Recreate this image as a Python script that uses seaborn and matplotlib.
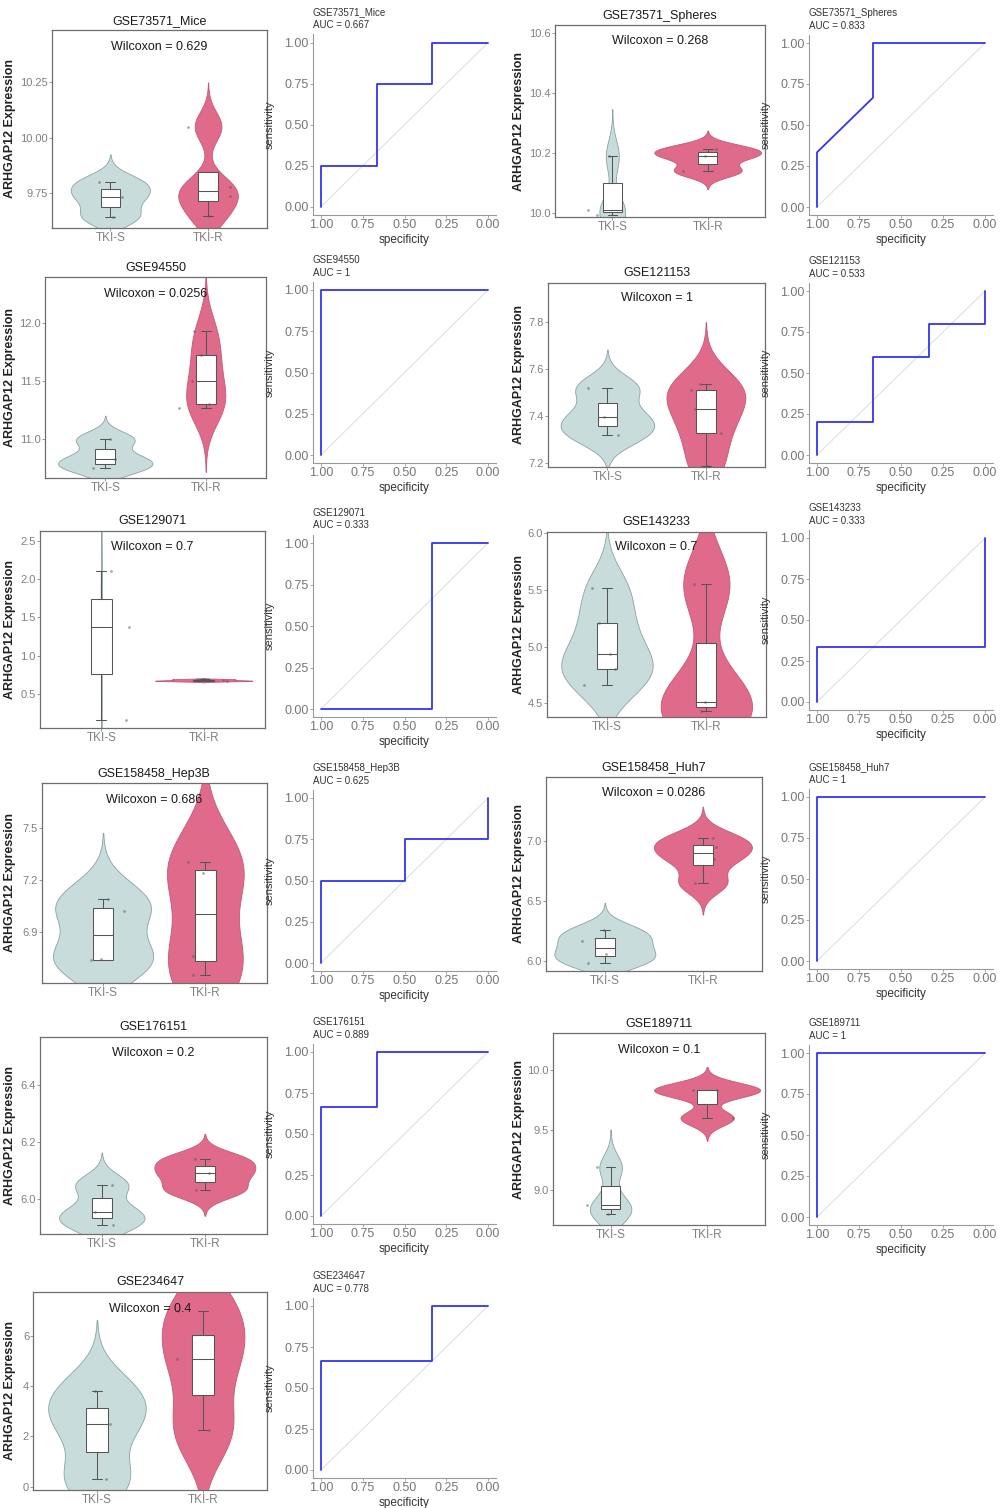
import numpy as np
import pandas as pd
import matplotlib
matplotlib.use("Agg")
import matplotlib.pyplot as plt
import seaborn as sns

np.random.seed(3)

# ---------------- data ----------------
names = ["GSE73571_Mice", "GSE73571_Spheres", "GSE94550", "GSE121153",
         "GSE129071", "GSE143233", "GSE158458_Hep3B", "GSE158458_Huh7",
         "GSE176151", "GSE189711", "GSE234647"]

tki_s = [
    [9.645, 9.735, 9.80],
    [9.995, 10.01, 10.19],
    [10.75, 10.83, 11.0],
    [7.32, 7.395, 7.52],
    [0.165, 1.37, 2.11],
    [4.66, 4.80, 4.93, 5.21, 5.52],
    [6.735, 6.74, 7.02, 7.09],
    [5.99, 6.06, 6.17, 6.26],
    [5.91, 5.955, 6.05],
    [8.80, 8.88, 9.19],
    [0.3, 2.5, 3.8],
]
tki_r = [
    [9.65, 9.74, 9.78, 10.05],
    [10.14, 10.19, 10.215],
    [11.27, 11.30, 11.50, 11.72, 11.93],
    [7.19, 7.33, 7.43, 7.51, 7.535],
    [0.672, 0.68, 0.695],
    [4.43, 4.51, 5.55],
    [6.65, 6.76, 7.24, 7.30],
    [6.65, 6.85, 6.95, 7.03],
    [6.03, 6.09, 6.14],
    [9.60, 9.83, 9.835],
    [2.25, 5.08, 7.0],
]
wilcox_p = ["0.629", "0.268", "0.0256", "1", "0.7", "0.7",
            "0.686", "0.0286", "0.2", "0.1", "0.4"]

y_limits = [(9.594, 10.484), (9.986, 10.628), (10.67, 12.39), (7.183, 7.965),
            (0.057, 2.63), (4.38, 6.014), (6.606, 7.756), (5.92, 7.54),
            (5.876, 6.57), (8.71, 10.306), (-0.13, 7.76)]
y_ticks = [[9.75, 10.0, 10.25], [10.0, 10.2, 10.4, 10.6], [11.0, 11.5, 12.0],
           [7.2, 7.4, 7.6, 7.8], [0.5, 1.0, 1.5, 2.0, 2.5], [4.5, 5.0, 5.5, 6.0],
           [6.9, 7.2, 7.5], [6.0, 6.5, 7.0], [6.0, 6.2, 6.4], [9.0, 9.5, 10.0],
           [0, 2, 4, 6]]
tick_decimals = [2, 1, 1, 1, 1, 1, 1, 1, 1, 1, 0]

groups = ["TKI-S", "TKI-R"]
roc_ticks = [1.0, 0.75, 0.5, 0.25, 0.0]
chance_spec = [1.0, 0.0]
chance_sens = [0.0, 1.0]

# ---------------- style / layout ----------------
sns.set_theme(style="ticks")
plt.rcParams["font.family"] = ["Liberation Sans", "DejaVu Sans"]

palette = {"TKI-S": "#c8dcdc", "TKI-R": "#e06a8a"}
edge = {"TKI-S": "#8aa2a2", "TKI-R": "#c4587a"}

# maximum violin width (fraction of a category slot), per panel: (TKI-S, TKI-R)
violin_width = [(0.81, 0.61), (0.27, 1.12), (0.94, 0.39), (0.95, 0.80), (0.012, 0.95),
                (0.92, 0.92), (0.98, 0.75), (1.03, 1.0), (0.83, 0.98), (0.43, 1.1),
                (0.92, 0.78)]

W, H = 1000, 1508
# violin axes boxes in pixels (left, top, right, bottom)
violin_box = [(51.7, 30, 266.7, 228), (555, 25, 765, 217.3), (45, 277.3, 266, 477.7),
              (548.3, 282.7, 765, 467.3), (40, 530.7, 265, 728.3), (547.3, 531.7, 766, 716.7),
              (41.7, 783.3, 266.7, 982.7), (546, 776.7, 761.7, 971), (40, 1036.7, 266.7, 1234.3),
              (552.7, 1033.3, 765, 1225), (33.3, 1291.7, 266.7, 1490)]
# ROC tick pixel positions of 1.00 and 0.00 on the y axis
roc_y = [(42.7, 206.7), (43, 207), (290, 455), (291, 455), (543, 709), (538, 702),
         (798, 963), (797, 961), (1052, 1216), (1053, 1217), (1306, 1470)]
roc_x = [(321, 488), (817, 985)]
ylabel_x = [16, 525]
sens_x = [275, 771]

fig = plt.figure(figsize=(W / 100, H / 100), dpi=100)


def px_axes(l, t, r, b):
    return fig.add_axes([l / W, 1 - b / H, (r - l) / W, (b - t) / H])


def nrd0(kde):
    x = np.asarray(kde.dataset).ravel()
    sd = x.std(ddof=1)
    q1, q3 = np.percentile(x, [25, 75])
    lo = min(sd, (q3 - q1) / 1.34)
    if lo <= 0:
        lo = sd
    return 0.9 * lo * len(x) ** -0.2 / sd


def roc_path(s, r):
    s = np.asarray(s)
    r = np.asarray(r)
    thr = np.unique(np.concatenate([s, r]))[::-1]
    spec, sens = [1.0], [0.0]
    for t in thr:
        sens.append(np.mean(r >= t))
        spec.append(np.mean(s < t))
    return np.array(spec), np.array(sens)


def auc_value(s, r):
    s = np.asarray(s)[None, :]
    r = np.asarray(r)[:, None]
    return np.mean((r > s) + 0.5 * (r == s))


for i, name in enumerate(names):
    col = i % 2
    s, r = tki_s[i], tki_r[i]
    df = pd.DataFrame({"group": ["TKI-S"] * len(s) + ["TKI-R"] * len(r),
                       "value": list(s) + list(r)})

    # ---------- violin panel ----------
    ax = px_axes(*violin_box[i])
    for g, w in zip(groups, violin_width[i]):
        sub = df[df["group"] == g]
        sns.violinplot(data=sub, x="group", y="value", order=groups,
                       color=palette[g], saturation=1, inner=None, cut=3,
                       bw_method=nrd0, density_norm="width", width=w,
                       linewidth=0.6, linecolor=edge[g], ax=ax)
    sns.boxplot(data=df, x="group", y="value", order=groups, color="white",
                saturation=1, width=0.2, linecolor="#555555", linewidth=0.75,
                showfliers=False, ax=ax)
    sns.stripplot(data=df, x="group", y="value", order=groups, color="#555555",
                  size=2, alpha=0.5, jitter=0.28, ax=ax, zorder=6)
    ax.set_xlim(-0.6, 1.6)
    ax.set_ylim(*y_limits[i])
    ax.set_yticks(y_ticks[i])
    ax.set_yticklabels([f"{v:.{tick_decimals[i]}f}" for v in y_ticks[i]])
    ax.set_xlabel("")
    ax.set_ylabel("ARHGAP12 Expression", fontsize=9, fontweight="bold", color="#222222")
    l, t, rr, b = violin_box[i]
    ax.yaxis.set_label_coords((ylabel_x[col] - l) / (rr - l), 0.5)
    ax.tick_params(axis="both", length=2, width=0.6, color="#888888", labelcolor="#808080", pad=1)
    ax.tick_params(axis="y", labelsize=8)
    ax.tick_params(axis="x", labelsize=8.5)
    for sp in ax.spines.values():
        sp.set_visible(True)
        sp.set_color("#6e6e6e")
        sp.set_linewidth(0.9)
    ax.set_title(name, fontsize=9, color="#1a1a1a", pad=4.5)
    ax.text(0.5, 0.915, f"Wilcoxon = {wilcox_p[i]}", transform=ax.transAxes,
            ha="center", va="center", fontsize=9, color="#1a1a1a", zorder=10)

    # ---------- ROC panel ----------
    x1, x0 = roc_x[col]
    y1, y0 = roc_y[i]
    dx, dy = 0.05 * (x0 - x1), 0.05 * (y0 - y1)
    ax2 = px_axes(x1 - dx, y1 - dy, x0 + dx, y0 + dy)
    spec, sens = roc_path(s, r)
    roc_df = pd.DataFrame({"specificity": spec, "sensitivity": sens})
    ax2.plot(chance_spec, chance_sens, color="#dcdcdc", lw=0.7, zorder=1)
    sns.lineplot(data=roc_df, x="specificity", y="sensitivity", sort=False,
                 estimator=None, color="#3434f2", lw=1.3, ax=ax2, zorder=3)
    ax2.set_xlim(1.05, -0.05)
    ax2.set_ylim(-0.05, 1.05)
    ax2.set_xticks(roc_ticks)
    ax2.set_yticks(roc_ticks)
    ax2.set_xticklabels([f"{v:.2f}" for v in roc_ticks])
    ax2.set_yticklabels([f"{v:.2f}" for v in roc_ticks])
    ax2.tick_params(axis="both", length=2, width=0.6, color="#999999",
                    labelcolor="#777777", labelsize=9, pad=1)
    for side in ["top", "right"]:
        ax2.spines[side].set_visible(False)
    for side in ["left", "bottom"]:
        ax2.spines[side].set_color("#9a9a9a")
        ax2.spines[side].set_linewidth(0.8)
    ax2.set_xlabel("specificity", fontsize=8.5, color="#333333", labelpad=2)
    ax2.set_ylabel("sensitivity", fontsize=8, color="#333333")
    ax2.yaxis.set_label_coords((sens_x[col] - (x1 - dx)) / (x0 - x1 + 2 * dx), 0.5)
    auc = auc_value(s, r)
    ax2.set_title(f"{name}\nAUC = {round(auc, 3):g}", loc="left", fontsize=7,
                  color="#333333", pad=4.5, linespacing=1.35)

fig.savefig("out.png", dpi=100, facecolor="white")
